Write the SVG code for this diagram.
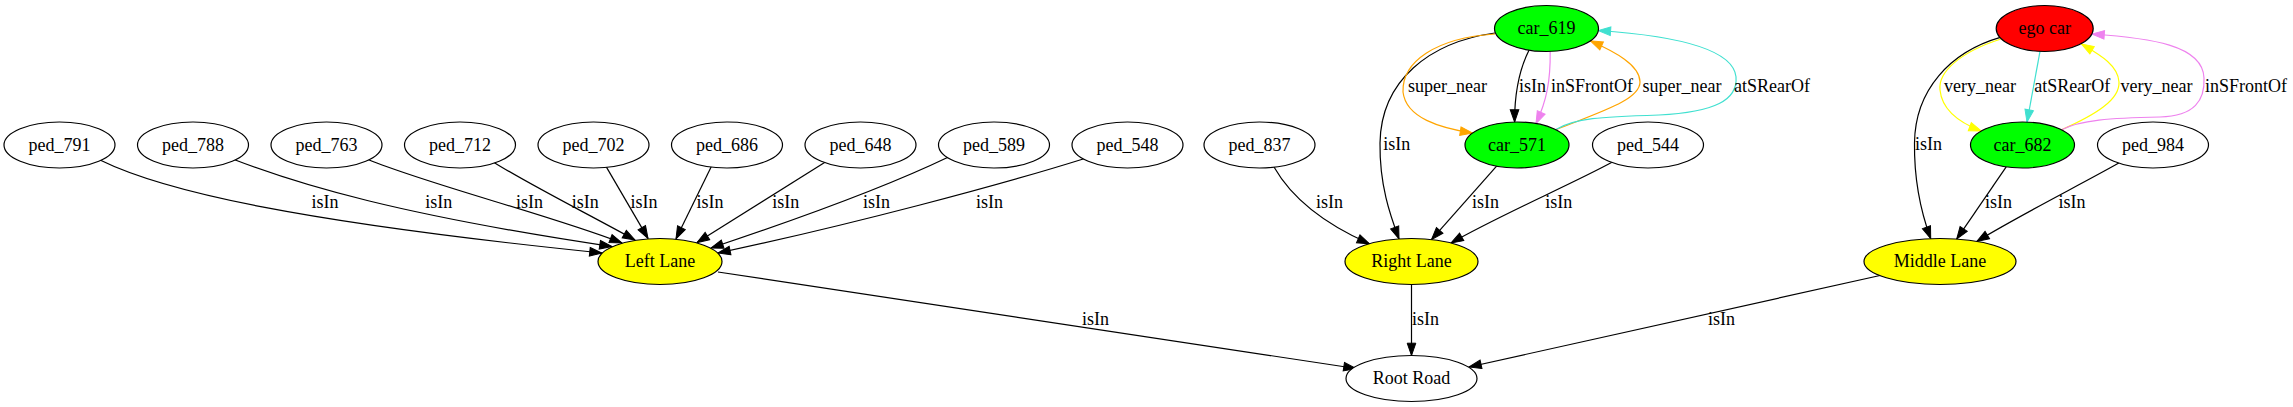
<svg xmlns="http://www.w3.org/2000/svg" width="2293" height="407" viewBox="0 0 2293 407">
<style>
text{font-family:"Liberation Serif","Times New Roman",serif;font-size:18px;text-anchor:middle;fill:#000}
.n ellipse{stroke:#000;stroke-width:1.2;fill:#fff}
.n .g{fill:#00ff00}
.n .r{fill:#ff0000}
.n .y{fill:#ffff00}
#edges path{fill:none;stroke-width:1.2}
.k{stroke:#000;marker-end:url(#ak)}
.o{stroke:#ffa500;marker-end:url(#ao)}
.v{stroke:#ee82ee;marker-end:url(#av)}
.t{stroke:#40e0d0;marker-end:url(#at)}
.yl{stroke:#ffff00;marker-end:url(#ay)}
</style>
<defs>
<marker id="ak" viewBox="0 0 12.3 8.6" refX="12.3" refY="4.3" markerWidth="12.3" markerHeight="8.6" orient="auto" markerUnits="userSpaceOnUse" overflow="visible"><path d="M0,0 L12.3,4.3 L0,8.6 z" fill="#000" stroke="#000" stroke-width="1"/></marker>
<marker id="ao" viewBox="0 0 12.3 8.6" refX="12.3" refY="4.3" markerWidth="12.3" markerHeight="8.6" orient="auto" markerUnits="userSpaceOnUse" overflow="visible"><path d="M0,0 L12.3,4.3 L0,8.6 z" fill="#ffa500" stroke="#ffa500" stroke-width="1"/></marker>
<marker id="av" viewBox="0 0 12.3 8.6" refX="12.3" refY="4.3" markerWidth="12.3" markerHeight="8.6" orient="auto" markerUnits="userSpaceOnUse" overflow="visible"><path d="M0,0 L12.3,4.3 L0,8.6 z" fill="#ee82ee" stroke="#ee82ee" stroke-width="1"/></marker>
<marker id="at" viewBox="0 0 12.3 8.6" refX="12.3" refY="4.3" markerWidth="12.3" markerHeight="8.6" orient="auto" markerUnits="userSpaceOnUse" overflow="visible"><path d="M0,0 L12.3,4.3 L0,8.6 z" fill="#40e0d0" stroke="#40e0d0" stroke-width="1"/></marker>
<marker id="ay" viewBox="0 0 12.3 8.6" refX="12.3" refY="4.3" markerWidth="12.3" markerHeight="8.6" orient="auto" markerUnits="userSpaceOnUse" overflow="visible"><path d="M0,0 L12.3,4.3 L0,8.6 z" fill="#ffff00" stroke="#ffff00" stroke-width="1"/></marker>
</defs>
<rect width="2293" height="407" fill="#fff"/>
<g id="edges">
<path class="k" d="M100,160 C165,192 300,222 602,253"/><text x="325" y="207.8">isIn</text>
<path class="k" d="M234,159.5 C300,185 400,215 612,246.6"/><text x="438.7" y="207.8">isIn</text>
<path class="k" d="M368,159.5 C430,185 550,215 622,243"/><text x="529.5" y="207.8">isIn</text>
<path class="k" d="M494,162.4 C530,185 590,215 635,240"/><text x="585.3" y="207.8">isIn</text>
<path class="k" d="M606,166.4 L648,238.4"/><text x="644" y="207.8">isIn</text>
<path class="k" d="M711.6,166 L676,238.8"/><text x="710" y="207.8">isIn</text>
<path class="k" d="M825.4,162 L697,242.6"/><text x="785.7" y="207.8">isIn</text>
<path class="k" d="M948,157.3 C880,190 780,225 711,248"/><text x="876.4" y="207.8">isIn</text>
<path class="k" d="M1084,158.7 C1000,185 850,225 718,253"/><text x="989.5" y="207.8">isIn</text>
<path class="k" d="M1274,167 C1290,195 1320,222 1369.5,243.8"/><text x="1329.4" y="207.8">isIn</text>
<path class="k" d="M1495,33 C1430,42 1381,80 1380,143 C1379.5,185 1390,215 1399,238.9"/><text x="1396.7" y="149.5">isIn</text>
<path class="k" d="M1496.6,166.2 L1431.5,239.6"/><text x="1485.5" y="207.8">isIn</text>
<path class="k" d="M1612,162.3 C1570,185 1500,215 1451,243"/><text x="1558.8" y="207.8">isIn</text>
<path class="k" d="M1529,50.2 C1518,72 1514.5,95 1514.6,122"/><text x="1532.6" y="92.2">isIn</text>
<path class="v" d="M1550.2,51.5 C1550.5,80 1547,100 1536,123.6"/><text x="1592" y="92.2">inSFrontOf</text>
<path class="o" d="M1495,34 C1435,38 1402,62 1403,92 C1406,118 1440,128 1472.5,133.1"/><text x="1447.5" y="92.2">super_near</text>
<path class="o" d="M1556,129.7 C1600,112 1640,100 1640,82 C1640,65 1615,52 1590.4,40.8"/><text x="1682" y="92.2">super_near</text>
<path class="t" d="M1556,129.5 C1575,118 1600,117 1659,115 C1715,112 1738,100 1736,76.7 C1733,50 1680,36 1598.3,30.5"/><text x="1772" y="92.2">atSRearOf</text>
<path class="k" d="M2000.3,37.4 C1950,52 1915,90 1914.5,143 C1914,185 1922,215 1930.7,238.7"/><text x="1928.5" y="149.5">isIn</text>
<path class="yl" d="M2001,39 C1960,52 1938,72 1940,90 C1942,110 1960,123 1981.3,131"/><text x="1980" y="92.2">very_near</text>
<path class="t" d="M2040,51.4 L2027,122.1"/><text x="2072.3" y="92.2">atSRearOf</text>
<path class="yl" d="M2061.6,129.8 C2095,115 2120,100 2119,82 C2118,65 2100,55 2081.5,44"/><text x="2156.5" y="92.2">very_near</text>
<path class="v" d="M2061.6,129.8 C2080,120 2110,118 2160,117 C2195,116 2205,100 2204,78 C2203,45 2150,38 2092,34"/><text x="2246" y="92.2">inSFrontOf</text>
<path class="k" d="M2006.2,166.8 L1956.7,239.1"/><text x="1998.5" y="207.8">isIn</text>
<path class="k" d="M2118.8,163.1 C2080,185 2020,215 1976.8,241.4"/><text x="2072" y="207.8">isIn</text>
<path class="k" d="M718,272 L1356,368.5"/><text x="1095.5" y="324.5">isIn</text>
<path class="k" d="M1411.5,284.5 L1411.5,355.5"/><text x="1425.5" y="324.5">isIn</text>
<path class="k" d="M1880,275.5 L1469,367"/><text x="1721.5" y="324.5">isIn</text>
</g>
<g id="ped_791" class="n"><ellipse cx="59.5" cy="145" rx="55.5" ry="23"/><text x="59.5" y="150.5">ped_791</text></g>
<g id="ped_788" class="n"><ellipse cx="193" cy="145" rx="55.5" ry="23"/><text x="193" y="150.5">ped_788</text></g>
<g id="ped_763" class="n"><ellipse cx="326.5" cy="145" rx="55.5" ry="23"/><text x="326.5" y="150.5">ped_763</text></g>
<g id="ped_712" class="n"><ellipse cx="460" cy="145" rx="55.5" ry="23"/><text x="460" y="150.5">ped_712</text></g>
<g id="ped_702" class="n"><ellipse cx="593.5" cy="145" rx="55.5" ry="23"/><text x="593.5" y="150.5">ped_702</text></g>
<g id="ped_686" class="n"><ellipse cx="727" cy="145" rx="55.5" ry="23"/><text x="727" y="150.5">ped_686</text></g>
<g id="ped_648" class="n"><ellipse cx="860.5" cy="145" rx="55.5" ry="23"/><text x="860.5" y="150.5">ped_648</text></g>
<g id="ped_589" class="n"><ellipse cx="994" cy="145" rx="55.5" ry="23"/><text x="994" y="150.5">ped_589</text></g>
<g id="ped_548" class="n"><ellipse cx="1127.5" cy="145" rx="55.5" ry="23"/><text x="1127.5" y="150.5">ped_548</text></g>
<g id="ped_837" class="n"><ellipse cx="1259.5" cy="145" rx="55.5" ry="23"/><text x="1259.5" y="150.5">ped_837</text></g>
<g id="car_571" class="n"><ellipse class="g" cx="1517" cy="145" rx="52" ry="23"/><text x="1517" y="150.5">car_571</text></g>
<g id="ped_544" class="n"><ellipse cx="1648" cy="145" rx="55.5" ry="23"/><text x="1648" y="150.5">ped_544</text></g>
<g id="car_682" class="n"><ellipse class="g" cx="2022.5" cy="145" rx="52" ry="23"/><text x="2022.5" y="150.5">car_682</text></g>
<g id="ped_984" class="n"><ellipse cx="2153" cy="145" rx="55.5" ry="23"/><text x="2153" y="150.5">ped_984</text></g>
<g id="car_619" class="n"><ellipse class="g" cx="1546.5" cy="28.5" rx="52" ry="23"/><text x="1546.5" y="34">car_619</text></g>
<g id="ego_car" class="n"><ellipse class="r" cx="2044.7" cy="28.5" rx="48.5" ry="23"/><text x="2044.7" y="34">ego car</text></g>
<g id="left_lane" class="n"><ellipse class="y" cx="660" cy="261.5" rx="62" ry="23"/><text x="660" y="267">Left Lane</text></g>
<g id="right_lane" class="n"><ellipse class="y" cx="1411.5" cy="261.5" rx="66.5" ry="23"/><text x="1411.5" y="267">Right Lane</text></g>
<g id="middle_lane" class="n"><ellipse class="y" cx="1940" cy="261.5" rx="76" ry="23"/><text x="1940" y="267">Middle Lane</text></g>
<g id="root_road" class="n"><ellipse cx="1411.5" cy="378.5" rx="65.5" ry="23"/><text x="1411.5" y="384">Root Road</text></g>
</svg>
